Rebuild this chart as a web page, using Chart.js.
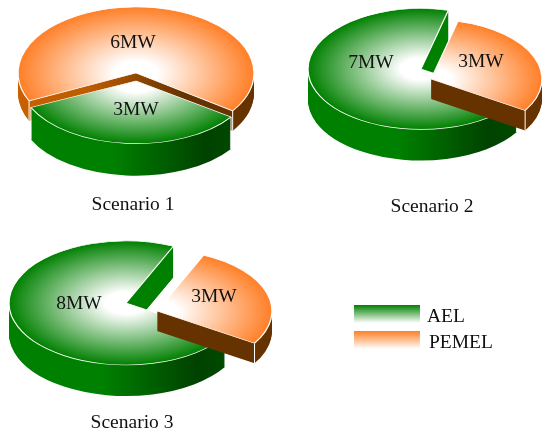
<!DOCTYPE html>
<html>
<head>
<meta charset="utf-8">
<style>
  body { margin: 0; background: #fff; width: 550px; height: 440px; position: relative; overflow: hidden; font-family: "Liberation Serif", serif; }
  canvas { position: absolute; left: 0; top: 0; }
  .swatch { position: absolute; left: 354px; width: 66px; height: 20px; }
  .key { position: absolute; font-size: 19.5px; line-height: 22px; color: #111; }
</style>
<script src="https://cdn.jsdelivr.net/npm/chart.js@4"></script>
</head>
<body>
<canvas id="pie0" width="550" height="440"></canvas>
<canvas id="pie1" width="550" height="440"></canvas>
<canvas id="pie2" width="550" height="440"></canvas>
<div class="swatch" style="top:305px;background:linear-gradient(#008000,#fff 90%)"></div>
<div class="swatch" style="top:331px;background:linear-gradient(#ff7f27,#fff 90%)"></div>
<div class="key" style="left:427px;top:305px">AEL</div>
<div class="key" style="left:429px;top:331px">PEMEL</div>
<script>
const scenarios = ["Scenario 1", "Scenario 2", "Scenario 3"];
const aelValues = [3, 7, 8];
const pemelValues = [6, 3, 3];

const GREEN = "rgb(0,128,0)";
const ORANGE = "rgb(255,127,39)";
const GREEN_WALL = [[0, "rgb(0,128,0)"], [0.4, "rgb(0,128,0)"], [0.8, "rgb(0,66,0)"], [1, "rgb(0,78,0)"]];
const ORANGE_WALL = [[0, "rgb(200,96,0)"], [0.3, "rgb(190,92,0)"], [0.7, "rgb(102,51,0)"], [1, "rgb(102,51,0)"]];
const BROWN_WALL = [[0, "rgb(102,51,0)"], [1, "rgb(102,51,0)"]];

// where each pie sits on the page, slices are in drawing order
const layouts = [
    {
        cx: 136, cy: 73, rotation: 245, caption: [133, 205],
        slices: [
            { name: "pemel", color: ORANGE, wall: ORANGE_WALL, dx: 0, dy: 0, r: 118, k: 0.56, depth: 20, label: [133, 43] },
            { name: "ael", color: GREEN, wall: GREEN_WALL, dx: 0, dy: 8, r: 116, k: 0.54, depth: 32, label: [136, 110] }
        ]
    },
    {
        cx: 421, cy: 69, rotation: 122, caption: [432, 207],
        slices: [
            { name: "ael", color: GREEN, wall: GREEN_WALL, notch: GREEN, dx: 0, dy: 0, r: 113, k: 0.535, depth: 31, label: [371, 63] },
            { name: "pemel", color: ORANGE, wall: BROWN_WALL, dx: 10, dy: 10, r: 111, k: 0.535, depth: 20, label: [481, 62] }
        ]
    },
    {
        cx: 126, cy: 303, rotation: 122, caption: [132, 423],
        slices: [
            { name: "ael", color: GREEN, wall: GREEN_WALL, notch: GREEN, dx: 0, dy: 0, r: 117, k: 0.53, depth: 31, label: [79, 304] },
            { name: "pemel", color: ORANGE, wall: BROWN_WALL, dx: 31, dy: 8, r: 115, k: 0.53, depth: 20, label: [214, 297] }
        ]
    }
];

function valueOf(slice, i) {
    return slice.name === "ael" ? aelValues[i] : pemelValues[i];
}

// Draw one arc element squashed into an ellipse, with its own fill
function drawSquashed(ctx, arc, slice, layout, lift, fill, border) {
    const ghost = Object.create(arc);
    ghost.outerRadius = slice.r;
    ghost.options = Object.assign({}, arc.options, {
        backgroundColor: fill,
        borderColor: border || fill,
        borderWidth: border ? 1.3 : 0
    });
    ctx.save();
    ctx.translate(layout.cx + slice.dx, layout.cy + slice.dy + lift);
    ctx.scale(1, slice.k);
    ctx.translate(-arc.x, -arc.y);
    ghost.draw(ctx);
    ctx.restore();
}

function pie3d(index) {
    const layout = layouts[index];
    return {
        id: "pie3d",
        beforeDatasetsDraw(chart) {
            const ctx = chart.ctx;
            chart.getDatasetMeta(0).data.forEach((arc, i) => {
                const slice = layout.slices[i];
                const wall = ctx.createLinearGradient(arc.x - slice.r, 0, arc.x + slice.r, 0);
                slice.wall.forEach(stop => wall.addColorStop(stop[0], stop[1]));
                for (let d = slice.depth; d > 0; d--) {
                    drawSquashed(ctx, arc, slice, layout, d, wall);
                }
                // the cut face in the notch stays bright
                if (slice.notch) {
                    const top = layout.cy + slice.dy;
                    ctx.save();
                    ctx.beginPath();
                    ctx.rect(layout.cx, 0, slice.r, top + 15);
                    ctx.clip();
                    for (let d = slice.depth; d > 0; d--) {
                        drawSquashed(ctx, arc, slice, layout, d, slice.notch);
                    }
                    ctx.restore();
                }
                // white edges down the front corners
                ctx.strokeStyle = "#fff";
                ctx.lineWidth = 1;
                [arc.startAngle, arc.endAngle].forEach(a => {
                    if (Math.sin(a) <= 0) return;
                    const x = layout.cx + slice.dx + slice.r * Math.cos(a);
                    const y = layout.cy + slice.dy + slice.r * slice.k * Math.sin(a);
                    ctx.beginPath();
                    ctx.moveTo(x, y);
                    ctx.lineTo(x, y + slice.depth);
                    ctx.stroke();
                });
                const face = ctx.createRadialGradient(arc.x, arc.y, 0, arc.x, arc.y, slice.r);
                face.addColorStop(0, "#fff");
                face.addColorStop(0.18, "#fff");
                face.addColorStop(1, slice.color);
                drawSquashed(ctx, arc, slice, layout, 0, face, "#fff");
            });
            return false;
        },
        afterDraw(chart) {
            const ctx = chart.ctx;
            ctx.save();
            ctx.font = "19.5px 'Liberation Serif'";
            ctx.fillStyle = "#111";
            ctx.textAlign = "center";
            ctx.textBaseline = "middle";
            layout.slices.forEach(slice => {
                ctx.fillText(valueOf(slice, index) + "MW", slice.label[0], slice.label[1]);
            });
            ctx.fillText(scenarios[index], layout.caption[0], layout.caption[1]);
            ctx.restore();
        }
    };
}

layouts.forEach((layout, i) => {
    new Chart(document.getElementById("pie" + i), {
        type: "pie",
        data: {
            labels: layout.slices.map(s => s.name),
            datasets: [{ data: layout.slices.map(s => valueOf(s, i)), backgroundColor: layout.slices.map(s => s.color) }]
        },
        options: {
            responsive: false,
            animation: false,
            rotation: layout.rotation,
            plugins: { legend: { display: false }, tooltip: { enabled: false } }
        },
        plugins: [pie3d(i)]
    });
});
</script>
</body>
</html>
